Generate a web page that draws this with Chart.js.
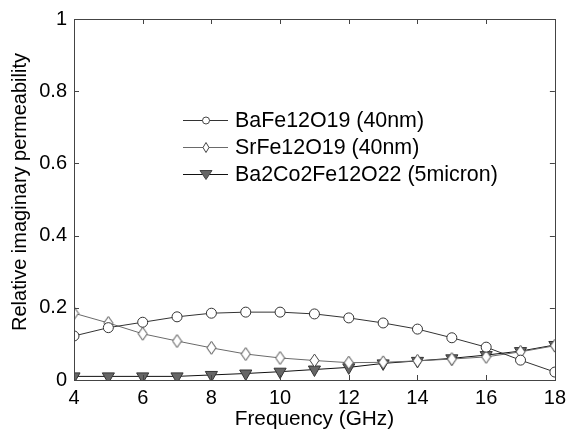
<!DOCTYPE html>
<html>
<head>
<meta charset="utf-8">
<script src="https://cdn.jsdelivr.net/npm/chart.js@4.4.1/dist/chart.umd.min.js"></script>
<style>
  html, body { margin: 0; padding: 0; background: #fff; }
  #wrap { width: 572px; height: 432px; }
</style>
</head>
<body>
<div id="wrap"><canvas id="myChart" width="572" height="432"></canvas></div>
<script>
const freqs = [4, 5, 6, 7, 8, 9, 10, 11, 12, 13, 14, 15, 16, 17, 18]
const bafe = [0.122, 0.145, 0.160, 0.175, 0.185, 0.188, 0.188, 0.183, 0.172, 0.158, 0.141, 0.117, 0.091, 0.055, 0.022]
const srfe = [0.185, 0.158, 0.128, 0.108, 0.089, 0.072, 0.061, 0.054, 0.048, 0.049, 0.053, 0.058, 0.064, 0.078, 0.095]
const ba2co = [0.010, 0.010, 0.010, 0.010, 0.014, 0.018, 0.023, 0.029, 0.035, 0.046, 0.053, 0.060, 0.069, 0.080, 0.097]
const seriesNames = ['BaFe12O19 (40nm)', 'SrFe12O19 (40nm)', 'Ba2Co2Fe12O22 (5micron)']
const xTicks = [4, 6, 8, 10, 12, 14, 16, 18]
const yTicks = [0, 0.2, 0.4, 0.6, 0.8, 1]
const yTitle = 'Relative imaginary permeability'

const FONT = "'Liberation Sans', Arial, sans-serif"
const FS = 20
Chart.defaults.font.family = FONT

// tall, narrow diamond marker
function diamond(w, h) {
    const c = document.createElement('canvas')
    c.width = w + 2
    c.height = h + 2
    const g = c.getContext('2d')
    g.beginPath()
    g.moveTo(c.width / 2, 1)
    g.lineTo(c.width - 1, c.height / 2)
    g.lineTo(c.width / 2, c.height - 1)
    g.lineTo(1, c.height / 2)
    g.closePath()
    g.fillStyle = '#fff'
    g.fill()
    g.strokeStyle = '#444'
    g.lineWidth = 1
    g.stroke()
    return c
}

const toPts = arr => arr.map((v, i) => ({ x: freqs[i], y: v }))

const data = {
    datasets: [{
        label: seriesNames[0],
        data: toPts(bafe),
        borderColor: '#333',
        borderWidth: 1,
        pointStyle: 'circle',
        pointRadius: 5,
        pointBackgroundColor: '#fff',
        pointBorderColor: '#333',
        pointBorderWidth: 1,
        legendMarker: 'circle'
    }, {
        label: seriesNames[1],
        data: toPts(srfe),
        borderColor: '#6a6a6a',
        borderWidth: 1,
        pointStyle: diamond(9, 13),
        pointRadius: 6,
        legendMarker: 'diamond'
    }, {
        label: seriesNames[2],
        data: toPts(ba2co),
        borderColor: '#111',
        borderWidth: 1,
        pointStyle: 'triangle',
        rotation: 180,
        pointRadius: 7,
        pointBackgroundColor: '#666',
        pointBorderColor: '#333',
        pointBorderWidth: 1,
        legendMarker: 'triangle'
    }]
}

// box around the plot with inward ticks on all four sides, the y title and the legend
const framePlugin = {
    id: 'frame',
    afterDatasetsDraw(chart) {
        const ctx = chart.ctx
        const a = chart.chartArea
        const xs = chart.scales.x
        const ys = chart.scales.y
        ctx.save()
        ctx.strokeStyle = '#444'
        ctx.lineWidth = 1
        ctx.strokeRect(Math.round(a.left) + 0.5, Math.round(a.top) + 0.5,
            Math.round(a.right - a.left), Math.round(a.bottom - a.top))
        const t = 5
        ctx.beginPath()
        xTicks.forEach(v => {
            const px = Math.round(xs.getPixelForValue(v)) + 0.5
            ctx.moveTo(px, a.bottom); ctx.lineTo(px, a.bottom - t)
            ctx.moveTo(px, a.top); ctx.lineTo(px, a.top + t)
        })
        yTicks.forEach(v => {
            const py = Math.round(ys.getPixelForValue(v)) + 0.5
            ctx.moveTo(a.left, py); ctx.lineTo(a.left + t, py)
            ctx.moveTo(a.right, py); ctx.lineTo(a.right - t, py)
        })
        ctx.stroke()

        // y axis title, a little above the axis middle
        ctx.save()
        ctx.translate(20, 192)
        ctx.rotate(-Math.PI / 2)
        ctx.font = FS + 'px ' + FONT
        ctx.fillStyle = '#000'
        ctx.textAlign = 'center'
        ctx.textBaseline = 'middle'
        ctx.fillText(yTitle, 0, 0)
        ctx.restore()

        // legend
        const x0 = 183, x1 = 228, mx = 206, tx = 235
        const rows = [120, 147, 174]
        ctx.font = '21.4px ' + FONT
        ctx.textBaseline = 'middle'
        chart.data.datasets.forEach((ds, i) => {
            const y = rows[i] + 0.5
            ctx.beginPath()
            ctx.strokeStyle = ds.borderColor
            ctx.moveTo(x0, y); ctx.lineTo(x1, y)
            ctx.stroke()
            ctx.strokeStyle = '#444'
            ctx.fillStyle = '#fff'
            if (ds.legendMarker === 'circle') {
                ctx.beginPath(); ctx.arc(mx, y, 3.5, 0, Math.PI * 2); ctx.fill(); ctx.stroke()
            } else if (ds.legendMarker === 'diamond') {
                ctx.beginPath()
                ctx.moveTo(mx, y - 5); ctx.lineTo(mx + 3, y); ctx.lineTo(mx, y + 5); ctx.lineTo(mx - 3, y)
                ctx.closePath(); ctx.fill(); ctx.stroke()
            } else {
                ctx.fillStyle = '#666'
                ctx.beginPath()
                ctx.moveTo(mx - 6, y - 4); ctx.lineTo(mx + 6, y - 4); ctx.lineTo(mx, y + 5)
                ctx.closePath(); ctx.fill(); ctx.stroke()
            }
            ctx.fillStyle = '#000'
            ctx.fillText(ds.label, tx, y + 1)
        })
        ctx.restore()
    }
}

const config = {
    type: 'line',
    data: data,
    options: {
        responsive: false,
        animation: false,
        layout: { padding: { top: 18, right: 13, left: 0, bottom: 0 } },
        plugins: {
            legend: { display: false },
            tooltip: { enabled: false }
        },
        scales: {
            x: {
                type: 'linear',
                min: 4,
                max: 18,
                afterBuildTicks: s => { s.ticks = xTicks.map(v => ({ value: v })) },
                afterFit: s => { s.height = 52 },
                grid: { display: false, drawTicks: false },
                border: { display: false },
                ticks: { color: '#000', font: { size: FS }, padding: 6, maxRotation: 0 },
                title: {
                    display: true,
                    text: 'Frequency (GHz)',
                    color: '#000',
                    font: { size: 20.8 },
                    padding: { top: 1, bottom: 0 }
                }
            },
            y: {
                min: 0,
                max: 1,
                afterBuildTicks: s => { s.ticks = yTicks.map(v => ({ value: v })) },
                afterFit: s => { s.width = 74 },
                grid: { display: false, drawTicks: false },
                border: { display: false },
                ticks: {
                    color: '#000',
                    font: { size: FS },
                    padding: 7,
                    callback: v => String(+v.toFixed(1))
                }
            }
        }
    },
    plugins: [framePlugin]
}

const myChart = new Chart(document.getElementById('myChart'), config)
</script>
</body>
</html>
